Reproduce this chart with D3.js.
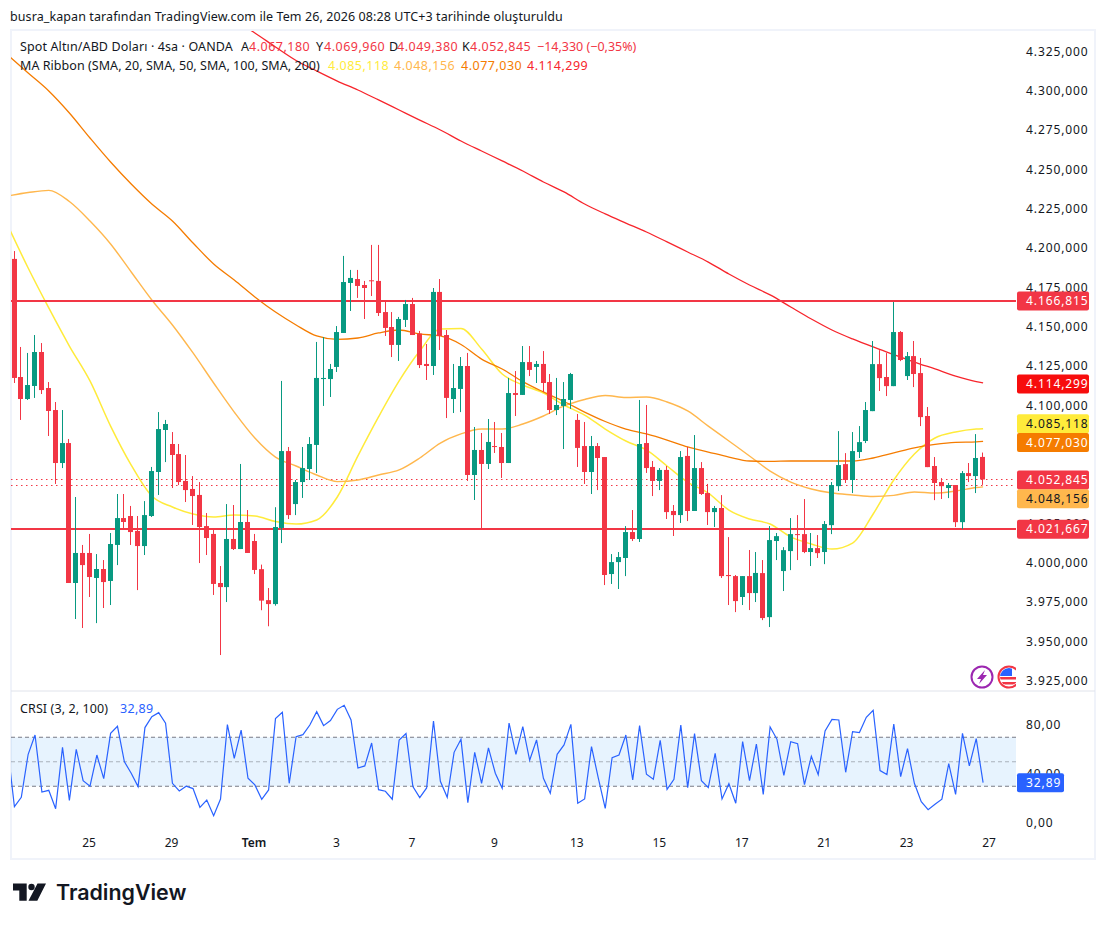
<!DOCTYPE html>
<html>
<head>
<meta charset="utf-8">
<script src="https://cdn.jsdelivr.net/npm/d3@7"></script>
<style>
  body { margin: 0; background: #fff; }
  text { font-family: "Noto Sans", sans-serif; }
</style>
</head>
<body>
<div id="plot"></div>
<script>
// candles, 4h bars
var open = [4193.1,4118.0,4104.0,4112.3,4133.9,4111.0,4097.0,4063.3,4076.0,3987.0,4006.1,4006.1,3990.2,3995.9,3988.3,4011.2,4028.3,4029.6,4020.1,4010.5,4029.6,4057.6,4084.3,4075.4,4069.0,4051.9,4046.8,4043.0,4023.2,4018.2,3987.0,3984.4,4015.0,4008.6,4025.8,4013.7,3995.8,3976.1,3973.6,4022.0,4070.9,4037.2,4051.2,4059.5,4074.8,4116.7,4116.7,4124.4,4146.0,4177.8,4180.3,4176.5,4179.5,4179.1,4159.3,4149.8,4138.4,4154.3,4164.4,4145.6,4126.3,4125.0,4172.1,4144.7,4104.0,4110.4,4125.0,4055.7,4071.6,4062.7,4074.1,4073.5,4063.3,4107.8,4106.6,4127.5,4124.4,4126.3,4114.8,4097.0,4099.6,4103.4,4090.7,4074.1,4057.6,4074.1,4067.1,3992.7,4000.3,4002.9,4019.4,4015.0,4076.0,4060.8,4051.9,4058.9,4032.8,4030.2,4067.8,4032.8,4060.1,4044.2,4032.1,4034.7,3992.1,3991.4,3978.1,3991.4,3980.6,3993.3,3965.3,4013.7,3994.6,4007.3,4018.1,4018.1,4006.7,4009.2,4006.7,4023.8,4048.6,4062.6,4052.5,4070.3,4077.3,4096.3,4126.2,4118.0,4112.2,4146.6,4118.6,4131.3,4120.5,4093.2,4061.4,4051.2,4047.4,4049.3,4025.7,4056.9,4055.0,4067.18]
var high = [4198.1,4137.1,4133.3,4144.7,4139.6,4114.8,4102.1,4097.0,4078.6,4041.7,4011.2,4018.2,4005.4,4001.6,4018.8,4043.6,4043.6,4036.0,4029.6,4039.1,4060.8,4095.7,4090.7,4083.0,4075.4,4068.4,4055.0,4051.2,4031.5,4020.7,3997.8,4037.2,4036.6,4062.7,4033.4,4018.2,3998.7,3983.8,4035.2,4115.5,4073.5,4052.5,4073.5,4079.8,4140.3,4143.4,4126.3,4150.4,4195.0,4186.1,4186.1,4179.1,4202.0,4202.0,4165.7,4159.3,4156.2,4167.0,4168.3,4147.3,4139.0,4174.6,4180.3,4147.9,4126.3,4130.7,4133.3,4086.2,4082.4,4091.3,4089.4,4082.4,4117.4,4121.8,4137.7,4137.7,4128.2,4134.5,4119.9,4117.4,4114.8,4120.6,4094.5,4089.4,4080.5,4076.0,4067.1,4005.4,4006.7,4023.2,4033.4,4103.4,4100.2,4064.6,4060.1,4061.4,4036.6,4070.9,4073.5,4081.1,4063.9,4050.0,4036.0,4042.9,4016.2,3992.1,3991.4,4008.0,4006.7,4001.6,4023.2,4018.8,4009.8,4028.3,4030.2,4040.4,4018.8,4017.5,4026.4,4051.2,4083.6,4069.6,4083.0,4086.8,4102.1,4140.9,4135.1,4133.2,4165.7,4147.2,4133.9,4140.9,4130.1,4098.9,4067.1,4053.7,4050.6,4049.3,4058.2,4063.3,4081.7,4069.96]
var low = [4114.2,4090.7,4103.4,4104.7,4107.2,4080.5,4050.0,4060.1,3987.0,3964.1,3958.4,3978.1,3961.5,3971.1,3973.0,3998.4,4022.0,4011.2,3982.5,4004.8,4029.0,4043.0,4063.9,4047.4,4049.3,4038.5,4023.9,3999.7,4004.8,3979.4,3941.2,3974.9,4008.0,4008.6,4006.1,3992.7,3969.7,3959.5,3972.6,4012.4,4027.7,4030.2,4041.1,4052.5,4057.0,4099.6,4105.3,4121.2,4146.0,4160.0,4168.3,4154.9,4169.5,4156.8,4144.1,4130.7,4128.2,4149.8,4144.7,4123.7,4116.1,4119.3,4135.2,4091.9,4095.1,4095.7,4051.9,4039.8,4021.3,4059.5,4069.7,4053.8,4063.3,4093.2,4106.6,4118.6,4114.2,4108.5,4094.5,4093.8,4072.2,4097.7,4060.8,4050.0,4043.6,4046.1,3985.7,3986.4,3983.2,3991.4,4013.7,4013.1,4057.0,4042.3,4046.1,4027.7,4016.9,4025.2,4026.4,4032.8,4043.0,4023.9,4022.6,3990.2,3973.0,3968.5,3973.0,3969.8,3974.9,3963.4,3959.0,4001.6,3981.9,3995.2,4001.6,4006.0,3997.8,4002.9,3999.0,4018.1,4045.5,4050.6,4044.2,4066.5,4076.0,4096.3,4109.1,4105.9,4112.2,4128.1,4116.1,4111.6,4086.8,4060.7,4039.7,4040.4,4041.0,4022.6,4021.3,4051.2,4044.2,4049.38]
var close = [4117.4,4104.0,4112.9,4133.9,4109.7,4096.4,4063.3,4076.0,3987.0,4006.1,3998.4,3990.8,3995.9,3987.6,4011.8,4028.3,4025.8,4019.4,4010.5,4030.2,4058.2,4084.9,4088.1,4068.4,4051.2,4046.1,4042.3,4022.6,4015.6,3986.4,3984.4,4015.0,4008.6,4025.8,4006.1,3995.3,3975.8,3973.6,4022.6,4070.9,4030.2,4051.2,4060.1,4075.4,4117.4,4117.4,4123.1,4146.6,4178.4,4181.0,4175.9,4174.6,4179.1,4158.7,4149.2,4138.4,4154.9,4164.4,4144.7,4125.6,4125.0,4172.1,4144.1,4104.7,4111.0,4125.0,4055.7,4071.6,4062.7,4076.7,4073.5,4063.3,4107.8,4106.6,4127.5,4122.5,4126.3,4114.2,4097.0,4100.2,4104.0,4119.9,4072.9,4057.6,4074.1,4066.5,3992.1,4000.3,4003.5,4019.4,4015.0,4075.4,4060.1,4051.9,4058.9,4032.1,4030.2,4067.1,4032.8,4060.1,4043.6,4032.1,4034.7,3991.4,3991.4,3975.5,3991.4,3980.6,3993.4,3964.7,4014.3,4016.8,4007.9,4018.1,4017.5,4006.7,4009.2,4006.0,4024.5,4049.3,4062.0,4052.5,4070.9,4076.6,4097.0,4126.2,4117.3,4112.2,4146.6,4128.8,4131.3,4119.9,4092.5,4060.7,4050.6,4048.6,4049.3,4025.7,4056.9,4055.0,4066.5,4052.845]

// moving averages, read every third bar (plus the last one)
var maBars = d3.range(-1, 141, 3).concat([141])
var ma20 = [4214.7,4187.3,4161.9,4137.7,4115.5,4086.8,4062.0,4042.3,4035.3,4030.9,4029.0,4030.2,4029.6,4026.1,4024.5,4027.1,4041.7,4067.8,4092.6,4115.5,4134.5,4148.5,4148.9,4135.8,4119.9,4112.9,4107.8,4100.2,4093.8,4084.9,4077.3,4071.6,4061.4,4051.2,4044.2,4033.4,4027.7,4024.5,4016.3,4011.8,4008.6,4012.4,4030.9,4052.5,4069.0,4079.2,4083.0,4084.9,4085.118]
var ma50 = [4233.1,4235.3,4236.7,4229.6,4217.2,4202.6,4184.8,4167.0,4151.1,4133.3,4114.2,4095.7,4079.2,4067.1,4061.4,4055.7,4051.5,4052.5,4055.7,4058.9,4066.5,4076.0,4081.8,4084.9,4084.9,4088.1,4093.2,4099.6,4103.7,4106.2,4105.0,4105.3,4102.1,4096.4,4086.8,4077.3,4067.8,4058.2,4051.2,4046.8,4044.2,4043.0,4042.0,4042.7,4044.9,4044.2,4045.5,4047.7,4048.156]
var ma100 = [4322.8,4311.3,4299.9,4285.9,4270.0,4254.7,4240.7,4228.0,4217.2,4203.2,4189.9,4179.7,4168.9,4159.3,4151.1,4144.1,4141.9,4142.8,4146.0,4147.9,4145.4,4144.1,4138.7,4129.4,4123.1,4115.1,4108.5,4102.4,4095.7,4089.7,4084.9,4081.8,4077.9,4073.5,4070.3,4067.1,4064.6,4064.3,4064.6,4064.6,4064.6,4064.6,4066.5,4069.7,4072.9,4075.1,4076.4,4076.7,4077.03]
// the 200 line only comes into the pane from bar 32 on
var ma200Bars = maBars.filter(d => d >= 32)
var ma200 = [4345.0,4336.8,4327.9,4319.3,4312.6,4306.2,4300.5,4294.2,4287.8,4281.4,4275.1,4268.1,4261.7,4255.4,4249.0,4242.0,4235.7,4228.0,4221.7,4215.9,4210.2,4203.9,4197.5,4191.1,4183.5,4176.5,4170.2,4162.5,4154.9,4147.9,4142.2,4137.1,4132.3,4127.5,4123.1,4118.6,4115.1,4114.299]

// CRSI, first value belongs to the bar before the pane starts
var crsi = [62,13.3,21.0,56.1,71.8,25.3,26.7,11.7,61.8,18.5,60.2,34.6,30.0,55.5,36.2,73.2,78.9,50.1,40.6,29.7,77.9,86.8,90.1,81.4,32.4,26.2,30.0,28.1,12.8,18.8,6.0,19.6,80.3,52.8,75.9,36.5,31.1,19.4,27.0,85.2,90.4,32.4,70.5,72.1,80.0,90.9,79.5,83.6,92.8,96.1,84.1,44.9,46.6,65.3,27.2,25.9,19.4,67.8,73.0,29.7,20.7,28.6,83.3,34.0,21.0,57.7,68.3,16.6,57.7,32.4,61.3,40.6,28.3,81.6,56.1,78.6,51.2,67.8,36.5,24.2,56.1,63.7,80.5,16.1,19.6,62.3,36.5,12.0,53.4,55.5,71.8,35.1,79.5,39.8,35.7,67.5,27.5,35.7,80.0,28.9,73.0,34.6,28.9,56.9,19.6,32.1,16.1,66.4,34.6,64.5,23.4,78.4,68.3,38.9,66.4,64.8,31.3,54.5,39.5,75.1,84.6,84.1,41.4,74.6,73.8,86.3,92.0,42.8,39.5,80.8,37.9,60.7,32.4,17.4,10.9,15.3,19.4,48.5,23.4,73.2,46.6,68.9,32.89]

// axes
var priceTicks = [4325,4300,4275,4250,4225,4200,4175,4150,4125,4100,4025,4000,3975,3950,3925]
var crsiTicks = [80,40,0]
var dateBars = [11,23,35,47,58,70,82,94,106,118,130,142]
var dateLabels = ["25","29","Tem","3","7","9","13","15","17","21","23","27"]

// horizontal levels
var levels = [4166.815, 4021.667]
var dotted = [4052.845, 4049.1]

// price tags on the right scale
var tagValues = [4166.815, 4114.299, 4085.118, 4077.03, 4052.845, 4048.156, 4021.667]
var tagFill = ["#f23645","#f70d0d","#ffeb3b","#f57c00","#f23645","#ffb74d","#f23645"]
var tagText = ["#fff","#fff","#131722","#fff","#fff","#131722","#fff"]
var tagNudge = [0.7,1.2,-5,1,0.5,12,0.7]

var headerText = "busra_kapan tarafından TradingView.com ile Tem 26, 2026 08:28 UTC+3 tarihinde oluşturuldu"

var red = "#f23645", green = "#089981"
var svgWidth = 1106, svgHeight = 925
var paneLeft = 11, paneRight = 1016, paneTop = 31, paneMid = 691, paneBottom = 858

var fmt = d3.formatLocale({decimal: ",", thousands: ".", grouping: [3], currency: ["", ""]})
var priceFmt = fmt.format(",.3f")
var crsiFmt = fmt.format(".2f")

var x = d3.scaleLinear().domain([0, 141]).range([14.02, 982.69])
var y = d3.scaleLinear().domain([4325, 3925]).range([51.5, 680.5])
var yc = d3.scaleLinear().domain([80, 0]).range([725, 823])

var svg = d3.select("#plot").append("svg")
  .attr("width", svgWidth)
  .attr("height", svgHeight)
  .style("display", "block")

var defs = svg.append("defs")
defs.append("clipPath").attr("id", "mainClip").append("rect")
  .attr("x", paneLeft).attr("y", paneTop)
  .attr("width", paneRight - paneLeft).attr("height", paneMid - paneTop)
defs.append("clipPath").attr("id", "crsiClip").append("rect")
  .attr("x", paneLeft).attr("y", paneMid)
  .attr("width", paneRight - paneLeft).attr("height", paneBottom - paneMid)
defs.append("clipPath").attr("id", "flagClip").append("rect")
  .attr("x", 990).attr("y", 660).attr("width", paneRight - 990).attr("height", 30)
defs.append("clipPath").attr("id", "flagDisc").append("circle")
  .attr("cx", 1009).attr("cy", 677).attr("r", 9)

svg.append("rect").attr("width", svgWidth).attr("height", svgHeight).attr("fill", "#fff")

// frame
svg.append("rect")
  .attr("x", 11).attr("y", 30).attr("width", 1084).attr("height", 829)
  .attr("fill", "none").attr("stroke", "#f0f3fa").attr("stroke-width", 2)
svg.append("line")
  .attr("x1", 11).attr("x2", 1095).attr("y1", paneMid).attr("y2", paneMid)
  .attr("stroke", "#e0e3eb")

svg.append("text").attr("x", 10).attr("y", 21)
  .attr("font-size", 12.5).attr("letter-spacing", 0.09).attr("fill", "#131722").text(headerText)

// main pane
var main = svg.append("g").attr("clip-path", "url(#mainClip)")

dotted.forEach(v => {
  var py = Math.round(y(v)) + 0.5
  main.append("line")
    .attr("x1", paneLeft).attr("x2", paneRight).attr("y1", py).attr("y2", py)
    .attr("stroke", red).attr("stroke-dasharray", "1.5 3.5")
})

function maLine(bars, values, color, w) {
  var line = d3.line()
    .x((d, i) => x(bars[i]) + 0.4)
    .y(d => y(d))
    .curve(d3.curveMonotoneX)
  main.append("path").datum(values)
    .attr("d", line)
    .attr("fill", "none").attr("stroke", color).attr("stroke-width", w)
}
maLine(maBars, ma20, "#ffeb3b", 1.5)
maLine(maBars, ma50, "#ffb74d", 1.4)
maLine(maBars, ma100, "#f57c00", 1.3)
maLine(ma200Bars, ma200, "#f7252c", 1.3)

levels.forEach(v => {
  var py = Math.round(y(v)) + 1
  main.append("line")
    .attr("x1", paneLeft).attr("x2", paneRight).attr("y1", py).attr("y2", py)
    .attr("stroke", red).attr("stroke-width", 2)
})

// candles
var bars = main.selectAll(".bar").data(open).enter().append("g").attr("class", "bar")
  .attr("fill", (d, i) => close[i] >= d ? green : red)
bars.append("rect")
  .attr("x", (d, i) => Math.floor(x(i)))
  .attr("width", 1)
  .attr("y", (d, i) => y(high[i]))
  .attr("height", (d, i) => y(low[i]) - y(high[i]))
bars.append("rect")
  .attr("x", (d, i) => Math.floor(x(i)) - 2)
  .attr("width", 5)
  .attr("y", (d, i) => y(Math.max(d, close[i])))
  .attr("height", (d, i) => Math.max(1, Math.abs(y(d) - y(close[i]))))

// circles sitting at the bottom right of the main pane
svg.append("circle").attr("cx", 982).attr("cy", 677).attr("r", 10.5)
  .attr("fill", "#fff").attr("stroke", "#9c27b0").attr("stroke-width", 2)
svg.append("path").attr("d", "M985 670 L977 679 L981 679 L979 684 L987 675 L983 675 Z").attr("fill", "#9c27b0")
var flag = svg.append("g").attr("clip-path", "url(#flagClip)")
flag.append("circle").attr("cx", 1009).attr("cy", 677).attr("r", 10.5)
  .attr("fill", "#fff").attr("stroke", red).attr("stroke-width", 2)
var flagInner = flag.append("g").attr("clip-path", "url(#flagDisc)")
flagInner.append("rect").attr("x", 1000).attr("y", 677).attr("width", 18).attr("height", 2.5).attr("fill", red)
flagInner.append("rect").attr("x", 1000).attr("y", 682).attr("width", 18).attr("height", 2.5).attr("fill", red)
flagInner.append("rect").attr("x", 1000).attr("y", 667).attr("width", 12).attr("height", 9).attr("fill", "#2962ff")

// crsi pane
var crsiG = svg.append("g").attr("clip-path", "url(#crsiClip)")
crsiG.append("rect")
  .attr("x", paneLeft).attr("width", paneRight - paneLeft)
  .attr("y", yc(70)).attr("height", yc(30) - yc(70))
  .attr("fill", "#2196f3").attr("opacity", 0.11)
;[70, 30].forEach(v => {
  crsiG.append("line")
    .attr("x1", paneLeft).attr("x2", paneRight).attr("y1", yc(v)).attr("y2", yc(v))
    .attr("stroke", "#787b86").attr("stroke-dasharray", "4 3")
})
crsiG.append("line")
  .attr("x1", paneLeft).attr("x2", paneRight).attr("y1", yc(50)).attr("y2", yc(50))
  .attr("stroke", "#787b86").attr("stroke-opacity", 0.55).attr("stroke-dasharray", "4 3")
crsiG.append("path").datum(crsi)
  .attr("d", d3.line().x((d, i) => x(i - 1) + 0.4).y(d => yc(d)))
  .attr("fill", "none").attr("stroke", "#2962ff").attr("stroke-width", 1.2)

// right scales
var priceAxis = d3.axisRight(y).tickValues(priceTicks).tickFormat(priceFmt).tickSize(0).tickPadding(0)
var crsiAxis = d3.axisRight(yc).tickValues(crsiTicks).tickFormat(crsiFmt).tickSize(0).tickPadding(0)
var priceAxisG = svg.append("g").attr("transform", "translate(1026,0)").call(priceAxis)
var crsiAxisG = svg.append("g").attr("transform", "translate(1026,0)").call(crsiAxis)
var dateAxis = d3.axisBottom(x).tickValues(dateBars).tickFormat((d, i) => dateLabels[i]).tickSize(0).tickPadding(0)
var dateAxisG = svg.append("g").attr("transform", "translate(-1,838)").call(dateAxis)
;[priceAxisG, crsiAxisG, dateAxisG].forEach(g => {
  g.select(".domain").remove()
  g.selectAll("text")
    .style("font-family", '"Noto Sans", sans-serif')
    .attr("font-size", 12).attr("letter-spacing", 0.9).attr("fill", "#131722")
})
dateAxisG.selectAll("text").attr("letter-spacing", 0)
  .filter((d, i) => dateLabels[i] == "Tem").attr("font-weight", 600)

// price tags
var tags = svg.selectAll(".tag").data(tagValues).enter().append("g").attr("class", "tag")
  .attr("transform", (d, i) => `translate(1017,${y(d) + tagNudge[i]})`)
tags.append("rect")
  .attr("y", -9.5).attr("width", 72).attr("height", 19).attr("rx", 2)
  .attr("fill", (d, i) => tagFill[i])
tags.append("text")
  .attr("x", 9).attr("dy", "0.35em")
  .attr("font-size", 12).attr("letter-spacing", 0.9)
  .attr("fill", (d, i) => tagText[i])
  .text(d => priceFmt(d))

var crsiTag = svg.append("g").attr("transform", `translate(1017,${yc(crsi[crsi.length - 1])})`)
crsiTag.append("rect").attr("y", -9.5).attr("width", 47).attr("height", 19).attr("rx", 2).attr("fill", "#2962ff")
crsiTag.append("text").attr("x", 9).attr("dy", "0.35em")
  .attr("font-size", 12).attr("letter-spacing", 0.9).attr("fill", "#fff")
  .text(crsiFmt(crsi[crsi.length - 1]))

// legend rows
function legend(px, py, str, color, ls) {
  svg.append("text").attr("x", px).attr("y", py)
    .attr("font-size", 12.5).attr("letter-spacing", ls || 0).attr("fill", color).text(str)
}
var ink = "#131722"
legend(20, 51, "Spot Altın/ABD Doları · 4sa · OANDA", ink, 0.12)
legend(241, 51, "A", ink)
legend(249, 51, priceFmt(open[141]), red, 0.5)
legend(316, 51, "Y", ink)
legend(324, 51, priceFmt(high[141]), red, 0.5)
legend(389, 51, "D", ink)
legend(397, 51, priceFmt(low[141]), red, 0.5)
legend(462, 51, "K", ink)
legend(470, 51, priceFmt(close[141]), red, 0.5)
legend(537, 51, "−14,330 (−0,35%)", red)
legend(20, 70, "MA Ribbon (SMA, 20, SMA, 50, SMA, 100, SMA, 200)", ink, 0.05)
legend(328, 70, priceFmt(ma20[48]), "#ffeb3b", 0.5)
legend(394, 70, priceFmt(ma50[48]), "#ffb74d", 0.5)
legend(461, 70, priceFmt(ma100[48]), "#f57c00", 0.5)
legend(527, 70, priceFmt(ma200[37]), "#f7252c", 0.5)
legend(20, 713, "CRSI (3, 2, 100)", ink, 0.1)
legend(120, 713, crsiFmt(crsi[crsi.length - 1]), "#2962ff", 0.3)

// logo
svg.append("path")
  .attr("d", "M13 883.5 H26.7 V900.7 H19.3 V890.5 H13 Z M37.5 883.5 H46 L37.3 900.7 H28.5 Z")
  .attr("fill", "#131722")
svg.append("circle").attr("cx", 31.5).attr("cy", 887).attr("r", 3.2).attr("fill", "#131722")
svg.append("text").attr("x", 56).attr("y", 900)
  .attr("font-size", 21.4).attr("font-weight", 600).attr("fill", "#131722")
  .style("font-family", "Inter, sans-serif")
  .text("TradingView")
</script>
</body>
</html>
